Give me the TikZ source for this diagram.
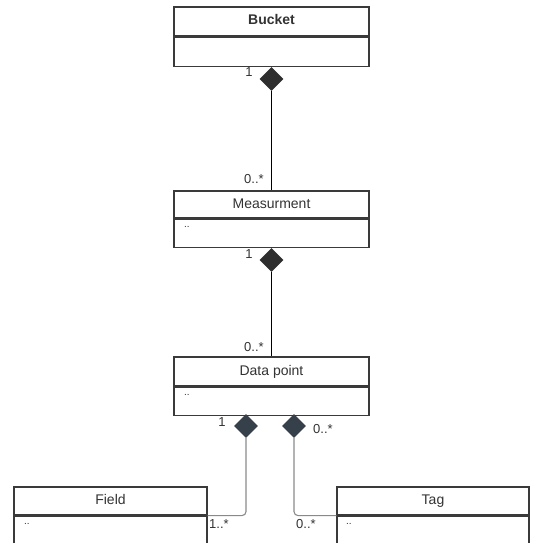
\documentclass[tikz,border=0pt]{standalone}
\usepackage{fontspec}
\setmainfont{Liberation Sans}
\usetikzlibrary{shapes.geometric}
\definecolor{boxline}{HTML}{3A3A3A}
\definecolor{txt}{HTML}{333333}
\definecolor{dmdtop}{HTML}{2E2E2E}
\definecolor{dmdlow}{HTML}{36404A}
\definecolor{linklow}{HTML}{8A8A8A}
\tikzset{
  hdr/.style={draw=boxline, line width=1.2pt, fill=white, minimum width=195, minimum height=28, inner sep=0pt, text height=10pt, text depth=3pt, text=txt, font=\fontsize{14}{16}\selectfont},
  body/.style={draw=boxline, line width=1.2pt, minimum width=195, minimum height=28, inner sep=0pt},
  dots/.style={anchor=base west, inner sep=0pt, text=txt, font=\fontsize{10}{12}\selectfont},
  mult/.style={inner sep=0pt, text=txt, font=\fontsize{13}{15}\selectfont},
  dmd/.style={diamond, fill=dmdtop, minimum width=24, minimum height=24, inner sep=0pt},
  dmdb/.style={diamond, fill=dmdlow, minimum width=24, minimum height=24, inner sep=0pt},
  link/.style={black, line width=0.8pt},
  linkb/.style={linklow, line width=1.1pt, rounded corners=4pt}
}
\begin{document}
\begin{tikzpicture}[x=1pt,y=-1pt]
\useasboundingbox (0,0) rectangle (533,543);

% bucket
\node[hdr, minimum height=29] (bucket) at (271.5,21.5) {\textbf{Bucket}};
\node[body, minimum height=29, anchor=north] (bucketb) at (bucket.south) {};
\node[dmd, anchor=north] (bucketd) at (bucketb.south) {};

% measurement
\node[hdr, minimum height=27] (meas) at (271.5,204.5) {Measurment};
\node[body, anchor=north] (measb) at (meas.south) {};
\node[dots] (measdots) at (184,227) {..};
\node[dmd, anchor=north] (measd) at (measb.south) {};

% data point
\node[hdr, minimum height=29] (dp) at (271.5,371.5) {Data point};
\node[body, anchor=north] (dpb) at (dp.south) {};
\node[dots] (dpdots) at (184,395) {..};
\node[dmdb] (fieldd) at (246,426) {};
\node[dmdb] (tagd) at (294,426) {};

% field and tag
\node[hdr, minimum width=193] (field) at (110.5,501) {Field};
\node[body, minimum width=193, anchor=north] (fieldb) at (field.south) {};
\node[dots] (fielddots) at (24,524) {..};
\node[hdr, minimum width=192] (tag) at (433,501) {Tag};
\node[body, minimum width=192, anchor=north] (tagb) at (tag.south) {};
\node[dots] (tagdots) at (346,524) {..};

% links
\draw[link] (bucketd.south) -- (meas.north);
\draw[link] (measd.south) -- (dp.north);
\draw[linkb] (fieldd.south) |- (fieldb.north east);
\draw[linkb] (tagd.south) |- (tagb.north west);

% multiplicities
\node[mult] (m1) at (249,72) {1};
\node[mult] (m2) at (254,179) {0..*};
\node[mult] (m3) at (249,254) {1};
\node[mult] (m4) at (254,347) {0..*};
\node[mult] (m5) at (222,422) {1};
\node[mult] (m6) at (323,429) {0..*};
\node[mult] (m7) at (219,524) {1..*};
\node[mult] (m8) at (306,524) {0..*};
\end{tikzpicture}
\end{document}
